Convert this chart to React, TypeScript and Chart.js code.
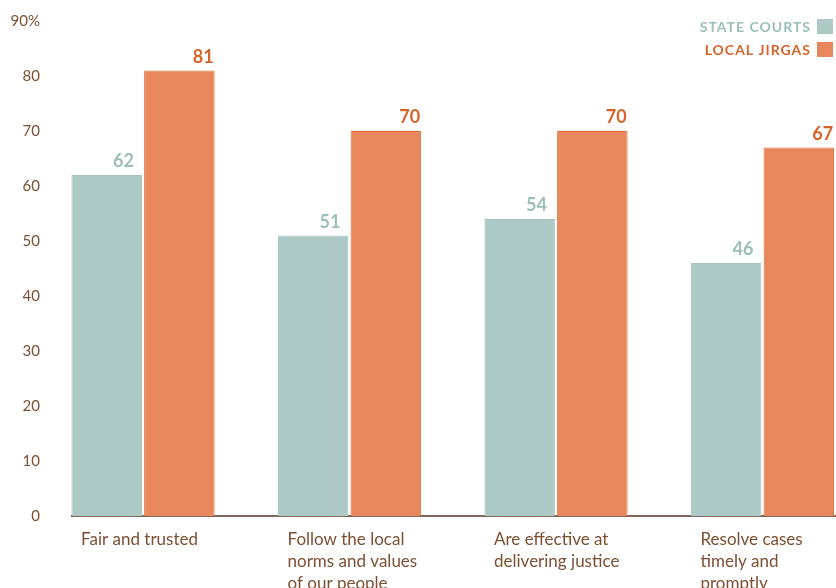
import React, { useEffect, useRef } from "react";
import { Chart, registerables } from "chart.js";

Chart.register(...registerables);

const categories: string[][] = [
  ["Fair and trusted"],
  ["Follow the local", "norms and values", "of our people"],
  ["Are effective at", "delivering justice"],
  ["Resolve cases", "timely and", "promptly"],
];
const seriesNames = ["STATE COURTS", "LOCAL JIRGAS"];
const stateCourts = [62, 51, 54, 46];
const localJirgas = [81, 70, 70, 67];
const yTicks = [0, 10, 20, 30, 40, 50, 60, 70, 80, 90];

const BROWN = "#7d4f33";
const FONT = "Lato, 'Open Sans', sans-serif";

const valueLabels = {
  id: "valueLabels",
  afterDatasetsDraw(chart: any) {
    const ctx = chart.ctx;
    chart.data.datasets.forEach((ds: any, di: number) => {
      const meta = chart.getDatasetMeta(di);
      meta.data.forEach((bar: any, i: number) => {
        const right = bar.x + bar.width / 2 - (ds.labelInset || 0);
        ctx.save();
        ctx.font = `bold 18px ${FONT}`;
        ctx.fillStyle = ds.labelColor;
        ctx.textAlign = "right";
        ctx.textBaseline = "alphabetic";
        ctx.fillText(String(ds.data[i].y), right, bar.y - 8);
        ctx.restore();
      });
    });
  },
};

const sideLegend = {
  id: "sideLegend",
  afterDraw(chart: any) {
    const ctx = chart.ctx;
    const boxRight = chart.width - 3;
    chart.data.datasets.forEach((ds: any, di: number) => {
      const top = 19 + di * 23;
      ctx.save();
      ctx.fillStyle = ds.backgroundColor;
      ctx.fillRect(boxRight - 16, top, 16, 15);
      ctx.font = `bold 14px ${FONT}`;
      (ctx as any).letterSpacing = "1px";
      ctx.fillStyle = ds.labelColor;
      ctx.textAlign = "right";
      ctx.textBaseline = "middle";
      ctx.fillText(ds.label, boxRight - 22, top + 8);
      ctx.restore();
    });
  },
};

export default function App() {
  const ref = useRef<HTMLCanvasElement>(null);
  useEffect(() => {
    document.body.style.margin = "0";
    const canvas = ref.current;
    if (!canvas) return;
    const chart = new Chart(canvas, {
      type: "bar",
      data: {
        datasets: [
          {
            label: seriesNames[0],
            data: stateCourts.map((v, i) => ({ x: i, y: v })),
            backgroundColor: "#adc9c5",
            borderColor: "#a4c3bf",
            borderWidth: 1,
            labelColor: "#9cbeba",
            labelInset: 8,
            clip: false,
          } as any,
          {
            label: seriesNames[1],
            data: localJirgas.map((v, i) => ({ x: i, y: v })),
            backgroundColor: "#e8875c",
            borderColor: "#e06e35",
            borderWidth: 1,
            labelColor: "#d5642a",
            labelInset: 1,
            clip: false,
          } as any,
        ],
      },
      options: {
        responsive: false,
        animation: false,
        layout: { padding: { top: 21, left: 0, right: 0, bottom: 0 } },
        datasets: {
          bar: { categoryPercentage: 0.704, barPercentage: 0.97 },
        },
        plugins: {
          legend: { display: false },
          tooltip: { enabled: false },
        },
        scales: {
          x: {
            type: "linear",
            offset: false,
            min: -0.344,
            max: 3.356,
            grid: { display: false, drawTicks: false },
            border: { display: true, color: "#7f6659", width: 2 },
            ticks: {
              stepSize: 1,
              includeBounds: false,
              autoSkip: false,
              maxRotation: 0,
              align: "start",
              labelOffset: -62,
              padding: 12,
              color: BROWN,
              font: { family: FONT, size: 17, lineHeight: 1.3 },
              callback: (v: any) =>
                Number.isInteger(v) && categories[v] ? categories[v] : "",
            },
            afterFit: (s: any) => {
              s.height = 72;
              s.paddingLeft = 0;
              s.paddingRight = 0;
            },
          },
          y: {
            min: 0,
            max: 90,
            grid: { display: false, drawTicks: false },
            border: { display: false },
            afterBuildTicks: (s: any) => {
              s.ticks = yTicks.map((v) => ({ value: v }));
            },
            ticks: {
              padding: 32,
              color: BROWN,
              font: { family: FONT, size: 15 },
              callback: (v: any) => (v === 90 ? "90%" : String(v)),
            },
            afterFit: (s: any) => {
              s.width = 72;
              s.paddingTop = 0;
              s.paddingBottom = 0;
            },
          },
        },
      },
      plugins: [valueLabels, sideLegend],
    });
    return () => chart.destroy();
  }, []);
  return (
    <canvas
      ref={ref}
      width={836}
      height={588}
      style={{ display: "block", background: "#fff" }}
    />
  );
}
